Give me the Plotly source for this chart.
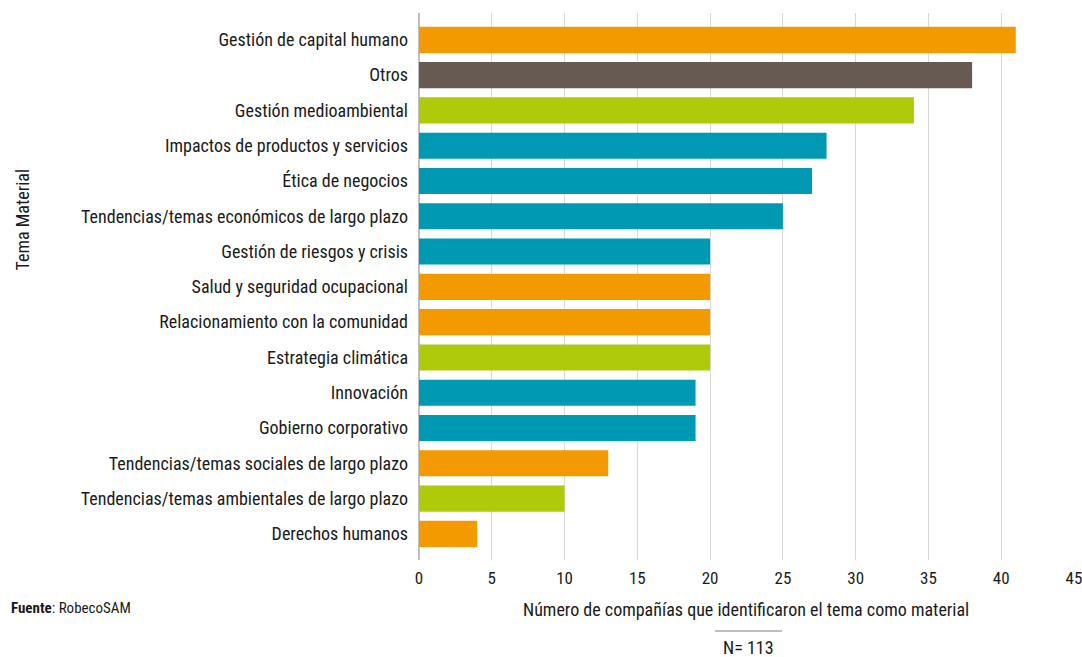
import plotly.graph_objects as go

categories = [
    "Gestión de capital humano",
    "Otros",
    "Gestión medioambiental",
    "Impactos de productos y servicios",
    "Ética de negocios",
    "Tendencias/temas económicos de largo plazo",
    "Gestión de riesgos y crisis",
    "Salud y seguridad ocupacional",
    "Relacionamiento con la comunidad",
    "Estrategia climática",
    "Innovación",
    "Gobierno corporativo",
    "Tendencias/temas sociales de largo plazo",
    "Tendencias/temas ambientales de largo plazo",
    "Derechos humanos",
]
values = [41, 38, 34, 28, 27, 25, 20, 20, 20, 20, 19, 19, 13, 10, 4]
groups = ["social", "otros", "ambiental", "economico", "economico", "economico",
          "economico", "social", "social", "ambiental", "economico", "economico",
          "social", "ambiental", "social"]
x_ticks = [0, 5, 10, 15, 20, 25, 30, 35, 40, 45]

palette = {"social": "#F39A00", "otros": "#665A52", "ambiental": "#AFCA0B", "economico": "#0099B4"}
colors = [palette[g] for g in groups]

FONT = "Liberation Sans Narrow, Roboto Condensed, Roboto, sans-serif"

W, H = 1082, 657
L, R, T, B = 419, 1082 - 1074, 13, 657 - 560
pw, ph = W - L - R, H - T - B


def px(xp):
    return (xp - L) / pw


def py(yp):
    return (H - B - yp) / ph


fig = go.Figure(go.Bar(
    y=categories, x=values, orientation="h",
    marker=dict(color=colors, line=dict(width=0)),
    width=0.74,
))

fig.update_layout(
    width=W, height=H,
    margin=dict(l=L, r=R, t=T, b=B, autoexpand=False),
    paper_bgcolor="white", plot_bgcolor="white",
    font=dict(family=FONT, size=18, color="#1a1a1a"),
    showlegend=False,
    xaxis=dict(range=[0, 45], tickvals=x_ticks, showgrid=True, gridcolor="#D9D9D9",
               gridwidth=1, zeroline=True, zerolinecolor="#BFBFBF", zerolinewidth=2,
               showline=False, ticks="", tickfont=dict(size=17), ticklabelstandoff=6,
               ticklabeloverflow="allow", automargin=False, fixedrange=True),
    yaxis=dict(range=[14.74, -0.76], type="category", categoryorder="array",
               categoryarray=categories, showgrid=False, ticks="",
               tickfont=dict(size=18), ticklabelstandoff=10, automargin=False),
    annotations=[
        dict(text="Tema Material", x=px(9), xanchor="left", y=py(220), xref="paper",
             yref="paper", showarrow=False, textangle=-90, font=dict(size=18)),
        dict(text="Número de compañías que identificaron el tema como material",
             x=px(746), xref="paper", y=py(609), yref="paper", showarrow=False,
             yanchor="middle", font=dict(size=18)),
        dict(text="N= 113", x=px(748), xref="paper", y=py(647), yref="paper",
             showarrow=False, yanchor="middle", font=dict(size=18)),
        dict(text="<b>Fuente</b>: RobecoSAM", x=px(9), xref="paper", xanchor="left",
             y=py(608), yref="paper", showarrow=False, yanchor="middle",
             font=dict(size=15)),
    ],
)
fig.add_shape(type="line", xref="paper", yref="paper",
              x0=px(715), x1=px(782), y0=py(631), y1=py(631),
              line=dict(color="#BFBFBF", width=2))

fig.write_html(
    "out.html",
    config={"displayModeBar": False},
    post_script="document.body.style.margin='0';document.body.style.overflow='hidden';",
)
